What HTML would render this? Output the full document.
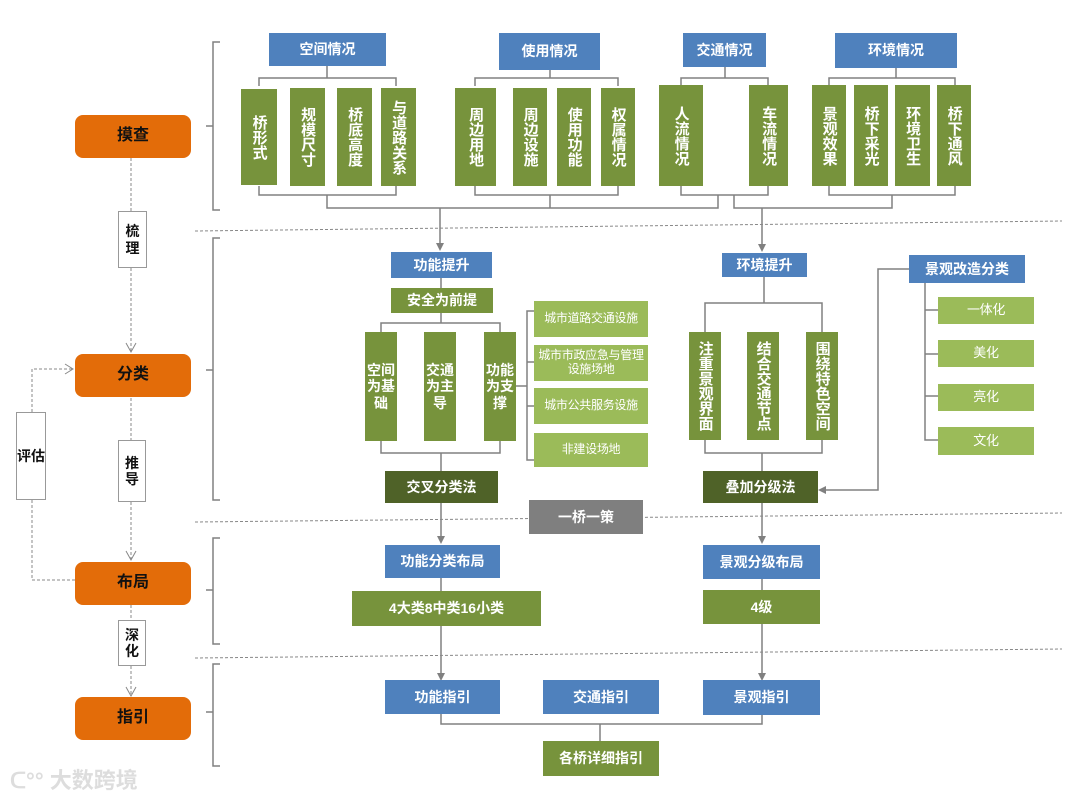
<!DOCTYPE html>
<html><head><meta charset="utf-8"><style>
body{margin:0;width:1080px;height:798px;background:#fff;position:relative;overflow:hidden;font-family:"Liberation Sans","Noto Sans CJK SC",sans-serif;}
.b{position:absolute;display:flex;align-items:center;justify-content:center;color:#fff;font-weight:bold;font-size:14px;text-align:center;line-height:1.15;box-sizing:border-box}
.bl{background:#4f81bd}.g{background:#77933c}.lg{background:#9bbb59;font-size:12px;font-weight:normal;white-space:nowrap;letter-spacing:-0.3px}.dg{background:#4f6228}.gr{background:#7f7f7f}
.o{background:#e36c09;color:#111;border-radius:8px;font-size:16px}
.w{background:#fff;border:1px solid #999;color:#111;font-size:14px}
.v{writing-mode:vertical-rl;letter-spacing:0px;font-size:15px}
svg{position:absolute;left:0;top:0}
</style></head><body>
<svg width="1080" height="798">
<g stroke="#808080" stroke-width="1.5" fill="none">
<path d="M220 42 H213 V210 H220 M213 126 H206"/>
<path d="M220 238 H213 V500 H220 M213 370 H206"/>
<path d="M220 538 H213 V644 H220 M213 590 H206"/>
<path d="M220 664 H213 V766 H220 M213 712 H206"/>
<path d="M327 66 V78 M259 86 V78 H396 V86"/>
<path d="M550 70 V78 M475 86 V78 H618 V86"/>
<path d="M725 67 V78 M681 86 V78 H768 V86"/>
<path d="M896 68 V78 M829 86 V78 H955 V86"/>
<path d="M259 186 V195 H396 V186"/>
<path d="M475 186 V195 H618 V186"/>
<path d="M681 186 V195 H768 V186"/>
<path d="M829 186 V195 H955 V186"/>
<path d="M327 195 V208 H718 V195 M550 195 V208"/>
<path d="M734 195 V208 H892 V195"/>
<path d="M440 208 V248 M762 208 V249"/>
<path d="M441 278 V288 M441 313 V323 M381 332 V323 H500 V332"/>
<path d="M381 441 V453 H500 V441 M441 453 V471"/>
<path d="M516 386 H527 M534 311 H527 V460 H534 M527 362 H534 M527 406 H534"/>
<path d="M441 503 V538 M762 503 V538"/>
<path d="M764 277 V303 M705 332 V303 H822 V332"/>
<path d="M705 440 V453 H822 V440 M762 453 V471"/>
<path d="M909 269 H878 V490 H822"/>
<path d="M925 283 V440 H938 M925 310 H938 M925 354 H938 M925 396 H938"/>
<path d="M441 578 V591 M441 626 V675 M762 578 V591 M762 624 V675"/>
<path d="M441 713 V724 H762 V713 M600 724 V742"/>
</g>
<g fill="#808080">
<path d="M436 243 L440 251 L444 243Z"/><path d="M758 244 L762 252 L766 244Z"/>
<path d="M437 536 L441 544 L445 536Z"/><path d="M758 536 L762 544 L766 536Z"/>
<path d="M437 673 L441 681 L445 673Z"/><path d="M758 673 L762 681 L766 673Z"/>
<path d="M826 486 L818 490 L826 494Z"/>
</g>
<g stroke="#888" stroke-width="1" stroke-dasharray="3,2" fill="none">
<path d="M195 231 L1062 221"/>
<path d="M195 522 L1062 513"/>
<path d="M195 658 L1062 649"/>
<path d="M131 158 V211 M131 268 V352 M131 398 V440 M131 502 V560 M131 605 V620 M131 666 V696"/>
<path d="M75 580 H32 V500 M32 412 V369 H72"/>
</g>
<g stroke="#888" stroke-width="1" fill="none">
<path d="M126 343 L131 352 L136 343 M126 551 L131 560 L136 551 M126 687 L131 696 L136 687 M65 364 L73 369 L65 374"/>
</g>
</svg>
<div class="b o" style="left:75px;top:115px;width:116px;height:43px">摸查</div>
<div class="b o" style="left:75px;top:354px;width:116px;height:43px">分类</div>
<div class="b o" style="left:75px;top:562px;width:116px;height:43px">布局</div>
<div class="b o" style="left:75px;top:697px;width:116px;height:43px">指引</div>
<div class="b w" style="left:118px;top:211px;width:29px;height:57px">梳<br>理</div>
<div class="b w" style="left:118px;top:440px;width:28px;height:62px">推<br>导</div>
<div class="b w" style="left:118px;top:620px;width:28px;height:46px">深<br>化</div>
<div class="b w" style="left:16px;top:412px;width:30px;height:88px">评估</div>

<div class="b bl" style="left:269px;top:33px;width:117px;height:33px">空间情况</div>
<div class="b bl" style="left:499px;top:33px;width:101px;height:37px">使用情况</div>
<div class="b bl" style="left:683px;top:33px;width:83px;height:34px">交通情况</div>
<div class="b bl" style="left:835px;top:33px;width:122px;height:35px">环境情况</div>

<div class="b g v" style="left:241px;top:89px;width:36px;height:96px">桥形式</div>
<div class="b g v" style="left:290px;top:88px;width:35px;height:98px">规模尺寸</div>
<div class="b g v" style="left:337px;top:88px;width:35px;height:98px">桥底高度</div>
<div class="b g v" style="left:381px;top:88px;width:35px;height:98px">与道路关系</div>
<div class="b g v" style="left:455px;top:88px;width:41px;height:98px">周边用地</div>
<div class="b g v" style="left:513px;top:88px;width:34px;height:98px">周边设施</div>
<div class="b g v" style="left:557px;top:88px;width:34px;height:98px">使用功能</div>
<div class="b g v" style="left:601px;top:88px;width:34px;height:98px">权属情况</div>
<div class="b g v" style="left:659px;top:85px;width:44px;height:101px">人流情况</div>
<div class="b g v" style="left:749px;top:85px;width:39px;height:101px">车流情况</div>
<div class="b g v" style="left:812px;top:85px;width:34px;height:101px">景观效果</div>
<div class="b g v" style="left:854px;top:85px;width:34px;height:101px">桥下采光</div>
<div class="b g v" style="left:895px;top:85px;width:35px;height:101px">环境卫生</div>
<div class="b g v" style="left:937px;top:85px;width:34px;height:101px">桥下通风</div>

<div class="b bl" style="left:391px;top:252px;width:101px;height:26px">功能提升</div>
<div class="b g" style="left:391px;top:288px;width:102px;height:25px">安全为前提</div>
<div class="b g" style="left:365px;top:332px;width:32px;height:109px;font-size:14px">空间<br>为基<br>础</div>
<div class="b g" style="left:424px;top:332px;width:32px;height:109px;font-size:14px">交通<br>为主<br>导</div>
<div class="b g" style="left:484px;top:332px;width:32px;height:109px;font-size:14px">功能<br>为支<br>撑</div>
<div class="b dg" style="left:385px;top:471px;width:113px;height:32px">交叉分类法</div>
<div class="b lg" style="left:534px;top:301px;width:114px;height:36px">城市道路交通设施</div>
<div class="b lg" style="left:534px;top:345px;width:114px;height:36px">城市市政应急与管理<br>设施场地</div>
<div class="b lg" style="left:534px;top:388px;width:114px;height:36px">城市公共服务设施</div>
<div class="b lg" style="left:534px;top:433px;width:114px;height:34px">非建设场地</div>
<div class="b gr" style="left:529px;top:500px;width:114px;height:34px">一桥一策</div>

<div class="b bl" style="left:722px;top:253px;width:85px;height:24px">环境提升</div>
<div class="b g v" style="left:689px;top:332px;width:32px;height:108px">注重景观界面</div>
<div class="b g v" style="left:747px;top:332px;width:32px;height:108px">结合交通节点</div>
<div class="b g v" style="left:806px;top:332px;width:32px;height:108px">围绕特色空间</div>
<div class="b dg" style="left:703px;top:471px;width:115px;height:32px">叠加分级法</div>
<div class="b bl" style="left:909px;top:255px;width:116px;height:28px">景观改造分类</div>
<div class="b lg" style="left:938px;top:297px;width:96px;height:27px;font-size:13px">一体化</div>
<div class="b lg" style="left:938px;top:340px;width:96px;height:27px;font-size:13px">美化</div>
<div class="b lg" style="left:938px;top:384px;width:96px;height:27px;font-size:13px">亮化</div>
<div class="b lg" style="left:938px;top:427px;width:96px;height:28px;font-size:13px">文化</div>

<div class="b bl" style="left:385px;top:545px;width:115px;height:33px">功能分类布局</div>
<div class="b g" style="left:352px;top:591px;width:189px;height:35px">4大类8中类16小类</div>
<div class="b bl" style="left:703px;top:545px;width:117px;height:34px">景观分级布局</div>
<div class="b g" style="left:703px;top:590px;width:117px;height:34px">4级</div>
<div class="b bl" style="left:385px;top:680px;width:115px;height:34px">功能指引</div>
<div class="b bl" style="left:543px;top:680px;width:116px;height:34px">交通指引</div>
<div class="b bl" style="left:703px;top:680px;width:117px;height:35px">景观指引</div>
<div class="b g" style="left:543px;top:741px;width:116px;height:35px">各桥详细指引</div>
<div style="position:absolute;left:10px;top:763px;color:#ddd;font-size:22px;font-weight:bold">ᑕ°° 大数跨境</div>
</body></html>
